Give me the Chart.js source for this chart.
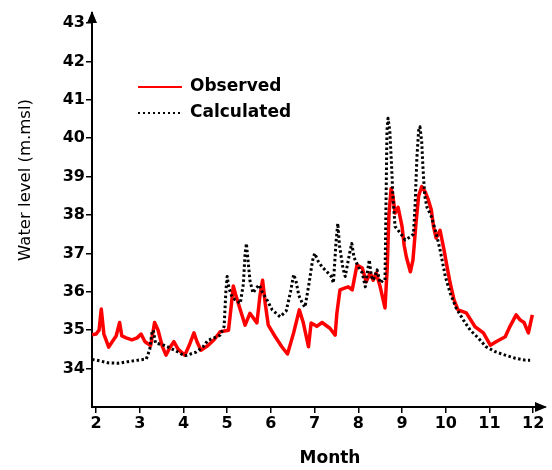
<!DOCTYPE html>
<html>
<head>
<meta charset="utf-8">
<script src="https://cdn.jsdelivr.net/npm/chart.js@4/dist/chart.umd.min.js"></script>
<style>
    body { margin: 0; background: #fff; }
    #wrap { width: 552px; height: 470px; }
</style>
</head>
<body>
<div id="wrap"><canvas id="levelChart" width="552" height="470"></canvas></div>
<script>
// month positions and water levels (m.msl)
const obsMonths = [1.91, 2.0, 2.07, 2.12, 2.18, 2.29, 2.37, 2.46, 2.54, 2.59, 2.69, 2.82, 2.94, 3.03, 3.12, 3.25, 3.34, 3.42, 3.51, 3.6,
    3.69, 3.78, 3.88, 4.03, 4.13, 4.24, 4.31, 4.4, 4.56, 4.7, 4.84, 5.03, 5.09, 5.14, 5.2, 5.3, 5.41, 5.52, 5.68, 5.75,
    5.81, 5.87, 5.94, 6.1, 6.25, 6.38, 6.52, 6.65, 6.74, 6.86, 6.92, 7.05, 7.17, 7.35, 7.47, 7.51, 7.58, 7.7, 7.77, 7.86,
    7.97, 8.09, 8.18, 8.27, 8.34, 8.41, 8.5, 8.61, 8.66, 8.7, 8.75, 8.79, 8.84, 8.91, 9.0, 9.05, 9.1, 9.19, 9.25, 9.32,
    9.38, 9.45, 9.53, 9.6, 9.67, 9.72, 9.78, 9.87, 9.96, 10.03, 10.1, 10.19, 10.28, 10.47, 10.67, 10.86, 11.02, 11.15, 11.36, 11.47,
    11.61, 11.7, 11.79, 11.89, 11.98];
const observed = [34.88, 34.9, 35.0, 35.55, 34.9, 34.56, 34.7, 34.85, 35.2, 34.85, 34.8, 34.75, 34.8, 34.9, 34.7, 34.6, 35.2, 35.0, 34.6, 34.35,
    34.55, 34.7, 34.5, 34.35, 34.6, 34.93, 34.7, 34.48, 34.6, 34.75, 34.96, 35.0, 35.6, 36.15, 35.9, 35.53, 35.13, 35.44, 35.19, 35.9,
    36.3, 35.7, 35.13, 34.83, 34.57, 34.38, 34.93, 35.53, 35.2, 34.57, 35.19, 35.1, 35.2, 35.05, 34.87, 35.45, 36.05, 36.1, 36.13, 36.05,
    36.7, 36.62, 36.26, 36.49, 36.3, 36.49, 36.13, 35.58, 36.6, 38.0, 38.69, 38.5, 38.05, 38.2, 37.7, 37.2, 36.9, 36.52, 36.83, 37.8,
    38.5, 38.74, 38.6, 38.4, 38.13, 37.7, 37.4, 37.6, 37.09, 36.65, 36.23, 35.79, 35.53, 35.45, 35.09, 34.93, 34.61, 34.7, 34.83, 35.1,
    35.4, 35.27, 35.2, 34.93, 35.4];

const calcMonths = [1.91, 2.09, 2.27, 2.5, 2.73, 2.96, 3.15, 3.23, 3.28, 3.31, 3.36, 3.57, 3.8, 4.03, 4.29, 4.45, 4.56, 4.7, 4.84, 4.93,
    4.97, 5.0, 5.04, 5.1, 5.18, 5.3, 5.37, 5.41, 5.44, 5.47, 5.52, 5.59, 5.67, 5.73, 5.8, 5.91, 6.03, 6.21, 6.35, 6.45,
    6.52, 6.57, 6.64, 6.72, 6.78, 6.87, 6.95, 7.0, 7.08, 7.17, 7.3, 7.38, 7.43, 7.49, 7.53, 7.57, 7.65, 7.7, 7.8, 7.85,
    7.9, 8.0, 8.09, 8.16, 8.22, 8.25, 8.3, 8.34, 8.43, 8.5, 8.57, 8.61, 8.63, 8.655, 8.68, 8.72, 8.76, 8.79, 8.84, 8.96,
    9.07, 9.19, 9.26, 9.3, 9.34, 9.38, 9.41, 9.45, 9.48, 9.52, 9.57, 9.67, 9.78, 9.87, 9.99, 10.1, 10.24, 10.4, 10.56, 10.74,
    10.92, 11.13, 11.36, 11.59, 11.82, 11.93];
const calculated = [34.24, 34.2, 34.15, 34.14, 34.18, 34.22, 34.25, 34.5, 34.95, 35.0, 34.67, 34.6, 34.48, 34.33, 34.43, 34.57, 34.74, 34.8, 34.87, 35.1,
    36.0, 36.4, 36.1, 35.9, 35.79, 35.7, 36.2, 37.0, 37.26, 36.9, 36.3, 35.97, 36.1, 36.18, 36.0, 35.79, 35.53, 35.35, 35.5, 36.0,
    36.45, 36.3, 35.9, 35.7, 35.6, 36.2, 36.8, 37.0, 36.8, 36.65, 36.5, 36.4, 36.23, 37.3, 37.78, 37.2, 36.6, 36.4, 37.0, 37.26,
    36.9, 36.65, 36.49, 36.13, 36.6, 36.83, 36.4, 36.3, 36.57, 36.23, 36.3, 36.3, 38.0, 40.2, 40.52, 40.2, 39.3, 38.5, 37.7, 37.53,
    37.35, 37.43, 37.5, 38.3, 39.5, 40.2, 40.3, 39.9, 39.2, 38.5, 38.2, 37.96, 37.53, 37.09, 36.4, 35.97, 35.57, 35.27, 35.0, 34.8,
    34.57, 34.44, 34.35, 34.27, 34.22, 34.22];

const xTicks = [2, 3, 4, 5, 6, 7, 8, 9, 10, 11, 12];
const yTicks = [34, 35, 36, 37, 38, 39, 40, 41, 42, 43];

const toPoints = (xs, ys) => xs.map((x, i) => ({ x: x, y: ys[i] }));

// arrows, axis titles and the in-plot legend
const decorPlugin = {
    id: 'decor',
    afterDraw(chart) {
        const ctx = chart.ctx;
        const area = chart.chartArea;
        ctx.save();
        ctx.fillStyle = '#000';

        // arrow heads on both axes
        ctx.beginPath();
        ctx.moveTo(area.left, area.top - 2);
        ctx.lineTo(area.left - 5, area.top + 10);
        ctx.lineTo(area.left + 5, area.top + 10);
        ctx.closePath();
        ctx.fill();

        ctx.beginPath();
        ctx.moveTo(area.right + 2, area.bottom);
        ctx.lineTo(area.right - 10, area.bottom - 5);
        ctx.lineTo(area.right - 10, area.bottom + 5);
        ctx.closePath();
        ctx.fill();

        // axis titles
        ctx.font = 'bold 17px "DejaVu Sans"';
        ctx.textAlign = 'center';
        ctx.textBaseline = 'middle';
        ctx.fillText('Month', 330, 459);

        ctx.save();
        ctx.translate(26, 180);
        ctx.rotate(-Math.PI / 2);
        ctx.font = '16.5px "DejaVu Sans"';
        ctx.fillText('Water level (m.msl)', 0, 0);
        ctx.restore();

        // legend
        const items = [
            { label: 'Observed', color: '#ff0000', dash: [], y: 87 },
            { label: 'Calculated', color: '#000', dash: [2, 3], y: 113 }
        ];
        ctx.textAlign = 'left';
        ctx.font = 'bold 17px "DejaVu Sans"';
        items.forEach(item => {
            ctx.strokeStyle = item.color;
            ctx.lineWidth = 2;
            ctx.setLineDash(item.dash);
            ctx.beginPath();
            ctx.moveTo(138, item.y);
            ctx.lineTo(182, item.y);
            ctx.stroke();
            ctx.setLineDash([]);
            ctx.fillStyle = '#000';
            ctx.fillText(item.label, 190, item.y);
        });
        ctx.restore();
    }
};

const tickFont = { family: 'DejaVu Sans', size: 16, weight: 'bold' };

new Chart(document.getElementById('levelChart'), {
    type: 'line',
    data: {
        datasets: [
            {
                label: 'Calculated',
                data: toPoints(calcMonths, calculated),
                borderColor: '#000',
                borderWidth: 3,
                borderDash: [2.5, 2.5],
                borderJoinStyle: 'round',
                pointRadius: 0,
                tension: 0,
                order: 1
            },
            {
                label: 'Observed',
                data: toPoints(obsMonths, observed),
                borderColor: '#ff0000',
                borderWidth: 3.5,
                borderJoinStyle: 'round',
                pointRadius: 0,
                tension: 0,
                order: 2
            }
        ]
    },
    options: {
        responsive: false,
        animation: false,
        layout: { padding: { top: 13, right: 7, left: 0, bottom: 0 } },
        plugins: { legend: { display: false }, tooltip: { enabled: false } },
        scales: {
            x: {
                type: 'linear',
                min: 1.908,
                max: 12.27,
                afterBuildTicks: scale => { scale.ticks = xTicks.map(v => ({ value: v })); },
                afterFit: scale => { scale.height = 63; },
                ticks: { color: '#000', font: tickFont, padding: 1, autoSkip: false, maxRotation: 0 },
                grid: { drawOnChartArea: false, drawTicks: true, tickLength: 6, color: '#000', lineWidth: 1.5 },
                border: { display: true, color: '#000', width: 2 }
            },
            y: {
                min: 33,
                max: 43.26,
                afterBuildTicks: scale => { scale.ticks = yTicks.map(v => ({ value: v })); },
                afterFit: scale => { scale.width = 92; },
                ticks: { color: '#000', font: tickFont, padding: 1, autoSkip: false },
                grid: { drawOnChartArea: false, drawTicks: true, tickLength: 6, color: '#000', lineWidth: 1.5 },
                border: { display: true, color: '#000', width: 2 }
            }
        }
    },
    plugins: [decorPlugin]
});
</script>
</body>
</html>
